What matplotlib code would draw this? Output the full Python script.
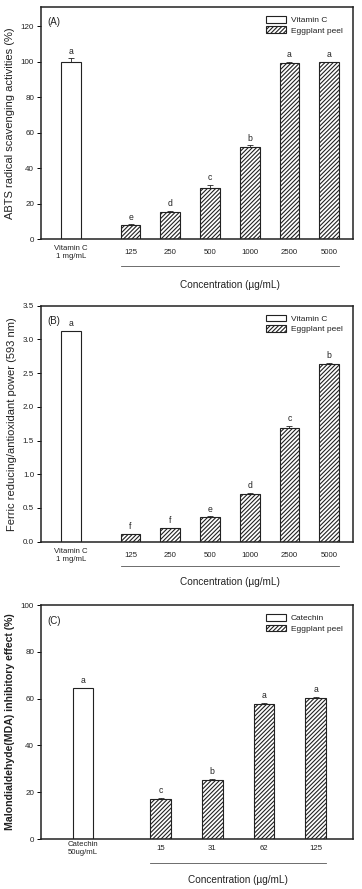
import matplotlib
matplotlib.use("Agg")
import matplotlib.pyplot as plt
import matplotlib.transforms as mtransforms

plt.rcParams['font.family'] = ['Liberation Sans', 'DejaVu Sans']
plt.rcParams['hatch.linewidth'] = 0.8
plt.rcParams['hatch.color'] = '#555555'

# Panel A data
a_ref_label = "Vitamin C\n1 mg/mL"
a_conc = ["125", "250", "500", "1000", "2500", "5000"]
a_ref_val = 100.0
a_ref_err = 2.0
a_vals = [8.0, 15.5, 29.0, 52.0, 99.5, 100.0]
a_errs = [0.3, 0.5, 1.5, 0.8, 0.3, 0.2]
a_letters = ["a", "e", "d", "c", "b", "a", "a"]

# Panel B data
b_ref_label = "Vitamin C\n1 mg/mL"
b_conc = ["125", "250", "500", "1000", "2500", "5000"]
b_ref_val = 3.12
b_ref_err = 0.01
b_vals = [0.11, 0.20, 0.36, 0.71, 1.69, 2.63]
b_errs = [0.005, 0.01, 0.015, 0.015, 0.03, 0.02]
b_letters = ["a", "f", "f", "e", "d", "c", "b"]

# Panel C data
c_ref_label = "Catechin\n50ug/mL"
c_conc = ["15", "31", "62", "125"]
c_ref_val = 64.5
c_ref_err = 0.2
c_vals = [17.0, 25.2, 57.8, 60.3]
c_errs = [0.5, 0.4, 0.5, 0.3]
c_letters = ["a", "c", "b", "a", "a"]

W, H = 362, 889
fig = plt.figure(figsize=(W / 100, H / 100), dpi=100)

TXT = '#222222'


def panel(rect, ref_label, ref_name, conc, ref_val, ref_err, vals, errs, letters,
          ylim, yticks, yfmt, ylabel, plabel, width, xlim, tpad, uline_y, conc_y,
          bold_label=False):
    ax = fig.add_axes(rect)
    n = len(conc)
    xs = [1.5 + i for i in range(n)]
    ax.bar([0], [ref_val], width=width, color='white', edgecolor='#222222',
           linewidth=0.8, label=ref_name, zorder=2)
    ax.bar(xs, vals, width=width, color='white', edgecolor='#222222',
           linewidth=0.8, hatch='////////', label='Eggplant peel', zorder=2)
    ax.errorbar([0] + xs, [ref_val] + vals, yerr=[[0] * (n + 1), [ref_err] + errs],
                fmt='none', ecolor='#222222', elinewidth=0.6, capsize=2.5,
                capthick=0.6, zorder=3)
    off = (ylim[1] - ylim[0]) * 0.012
    for x, v, e, l in zip([0] + xs, [ref_val] + vals, [ref_err] + errs, letters):
        ax.text(x, v + e + off, l, ha='center', va='bottom', fontsize=6.2, color=TXT)
    ax.set_xlim(*xlim)
    ax.set_ylim(*ylim)
    ax.set_yticks(yticks)
    ax.set_yticklabels([yfmt.format(t) for t in yticks])
    ax.set_xticks([0] + xs)
    ax.set_xticklabels([ref_label] + conc, fontsize=5.6, color=TXT, linespacing=1.2)
    for t in ax.get_xticklabels():
        t.set_va('center')
    ax.tick_params(axis='x', length=0, pad=tpad)
    ax.tick_params(axis='y', direction='out', length=3, width=0.7, labelsize=5.8,
                   labelcolor=TXT, pad=2)
    for s in ax.spines.values():
        s.set_linewidth(1.1)
        s.set_color('#222222')
    ax.set_ylabel(ylabel, fontsize=8.0 if not bold_label else 7.6,
                  fontweight='bold' if bold_label else 'normal', color=TXT, labelpad=4)
    ax.text(0.02, 0.955, plabel, transform=ax.transAxes, fontsize=7, color=TXT,
            ha='left', va='top')
    trans = mtransforms.blended_transform_factory(ax.transData, ax.transAxes)
    ax.plot([xs[0] - width / 2, xs[-1] + width / 2], [uline_y, uline_y], transform=trans,
            color='#555555', linewidth=0.6, clip_on=False)
    ax.text((xs[0] + xs[-1]) / 2, conc_y, "Concentration (\u00b5g/mL)", transform=trans,
            ha='center', va='center', fontsize=7.2, color=TXT)
    leg = ax.legend(loc='upper right', bbox_to_anchor=(0.985, 0.985), frameon=False,
                    fontsize=6, handlelength=2.4, handleheight=0.8, labelspacing=0.25,
                    handletextpad=0.6, borderaxespad=0.3)
    for t in leg.get_texts():
        t.set_color(TXT)
    return ax


panel([41 / W, (H - 239) / H, 312 / W, 232 / H], a_ref_label, "Vitamin C", a_conc,
      a_ref_val, a_ref_err, a_vals, a_errs, a_letters, (0, 131), list(range(0, 121, 20)),
      "{:d}", "ABTS radical scavenging activities (%)", "(A)", 0.5, (-0.755, 7.1),
      10, -0.116, -0.198)

panel([41 / W, (H - 541.7) / H, 312 / W, 236 / H], b_ref_label, "Vitamin C", b_conc,
      b_ref_val, b_ref_err, b_vals, b_errs, b_letters, (0, 3.5),
      [0, 0.5, 1.0, 1.5, 2.0, 2.5, 3.0, 3.5], "{:.1f}",
      "Ferric reducing/antioxidant power (593 nm)", "(B)", 0.5, (-0.755, 7.1),
      10, -0.102, -0.17)

panel([41 / W, (H - 839) / H, 312 / W, 234 / H], c_ref_label, "Catechin", c_conc,
      c_ref_val, c_ref_err, c_vals, c_errs, c_letters, (0, 100), list(range(0, 101, 20)),
      "{:d}", "Malondialdehyde(MDA) inhibitory effect (%)", "(C)", 0.4, (-0.81, 5.22),
      6.5, -0.103, -0.175, bold_label=True)

fig.savefig("out.png", dpi=100)
